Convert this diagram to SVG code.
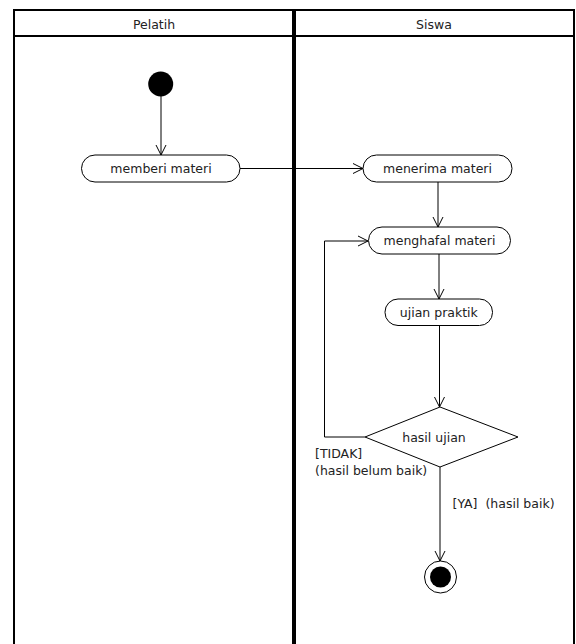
<svg xmlns="http://www.w3.org/2000/svg" width="576" height="644" viewBox="0 0 576 644">
<style>
.frame{fill:none;stroke:#000;stroke-width:2}
.div{fill:none;stroke:#000;stroke-width:4}
.node{fill:#fff;stroke:#000;stroke-width:1}
.lbl{font-family:"DejaVu Sans",Verdana,sans-serif;font-size:12.5px;fill:#222}
.c{text-anchor:middle}
.edge{fill:none;stroke:#000;stroke-width:1}
</style>
<defs>
<marker id="arr" markerWidth="12" markerHeight="12" viewBox="-11 -6 12 12" refX="0" refY="0" orient="auto" markerUnits="userSpaceOnUse">
<path d="M-10,-5 L0,0 L-10,5" fill="none" stroke="#000" stroke-width="1"/>
</marker>
</defs>
<rect width="576" height="644" fill="#fff"/>
<g id="swimlanes">
<path class="frame" d="M14,644 V10 H574 V644"/>
<line class="frame" x1="14" y1="36" x2="574" y2="36"/>
<line class="div" x1="294" y1="10" x2="294" y2="644"/>
<text class="lbl c" x="154" y="29">Pelatih</text>
<text class="lbl c" x="434" y="29">Siswa</text>
</g>
<g id="connectors">
<line class="edge" x1="161" y1="96" x2="161" y2="155" marker-end="url(#arr)"/>
<line class="edge" x1="240" y1="168.5" x2="363" y2="168.5" marker-end="url(#arr)"/>
<line class="edge" x1="438" y1="182" x2="438" y2="227" marker-end="url(#arr)"/>
<line class="edge" x1="439" y1="254" x2="439" y2="299" marker-end="url(#arr)"/>
<line class="edge" x1="439.5" y1="325.5" x2="439.5" y2="407" marker-end="url(#arr)"/>
<polyline class="edge" points="365,437 324.5,437 324.5,241 368,241" marker-end="url(#arr)"/>
<line class="edge" x1="440" y1="467" x2="440" y2="561" marker-end="url(#arr)"/>
<text class="lbl" x="315" y="458">[TIDAK]</text>
<text class="lbl" x="315" y="475">(hasil belum baik)</text>
<text class="lbl" x="452.5" y="508">[YA]<tspan dx="4"> (hasil baik)</tspan></text>
</g>
<g id="start">
<circle cx="160.7" cy="84" r="12.5" fill="#000"/>
</g>
<g id="memberi-materi">
<rect class="node" x="81.5" y="155" width="158.5" height="27" rx="13.5"/>
<text class="lbl c" x="161" y="173">memberi materi</text>
</g>
<g id="menerima-materi">
<rect class="node" x="363" y="155" width="149" height="27" rx="13.5"/>
<text class="lbl c" x="437.5" y="173">menerima materi</text>
</g>
<g id="menghafal-materi">
<rect class="node" x="368.5" y="227" width="142" height="27" rx="13.5"/>
<text class="lbl c" x="439.5" y="245">menghafal materi</text>
</g>
<g id="ujian-praktik">
<rect class="node" x="385" y="299" width="107.5" height="26.5" rx="13"/>
<text class="lbl c" x="438.8" y="316.5">ujian praktik</text>
</g>
<g id="hasil-ujian">
<polygon class="node" points="440,407 518,437 440,467 365,437"/>
<text class="lbl c" x="434" y="441.5">hasil ujian</text>
</g>
<g id="end">
<circle class="node" cx="440.5" cy="577" r="16"/>
<circle cx="440.5" cy="577" r="10.5" fill="#000"/>
</g>
</svg>
